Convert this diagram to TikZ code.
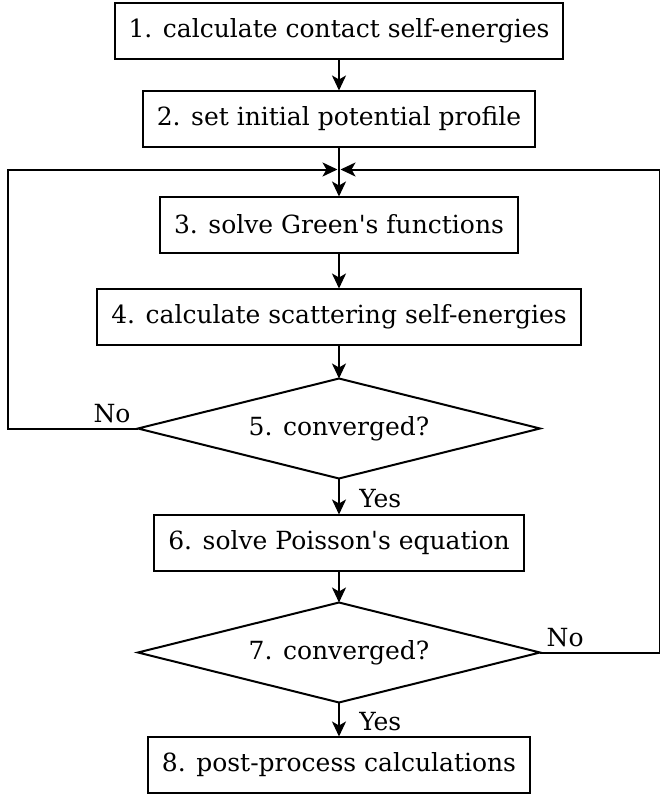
\documentclass[tikz,border=0pt]{standalone}
\usepackage{fontspec}
\setmainfont{DejaVu Serif}
\usetikzlibrary{shapes.geometric,arrows.meta,positioning,calc}

\begin{document}
\begin{tikzpicture}[
      node distance=34pt,
      line width=2pt,
      stepbox/.style={rectangle, draw, fill=white, text centered, font=\fontsize{25}{30}\selectfont, minimum height=56pt, inner xsep=14pt, outer sep=0pt},
      check/.style={diamond, draw, fill=white, aspect=4, inner sep=0pt, outer sep=0pt, font=\fontsize{25}{30}\selectfont, minimum width=402pt, minimum height=100pt},
      lbl/.style={font=\fontsize{25}{30}\selectfont},
      arrow/.style={-{Stealth[length=15pt,width=14pt,inset=4pt]}}
    ]
      \useasboundingbox (0,0) rectangle (660pt,-795pt);

      \node[stepbox] (contact) at (339pt,-30.5pt) {1. calculate contact self-energies};
      \node[stepbox, below=32pt of contact] (init) {2. set initial potential profile};
      \node[stepbox, below=50pt of init] (green) {3. solve Green\textquotesingle s functions};
      \node[stepbox, below=36pt of green] (scatter) {4. calculate scattering self-energies};
      \node[check, below=of scatter] (conv1) {5. converged?};
      \node[stepbox, below=36pt of conv1] (poisson) {6. solve Poisson\textquotesingle s equation};
      \node[check, below=32pt of poisson] (conv2) {7. converged?};
      \node[stepbox, below=of conv2] (post) {8. post-process calculations};

      % loop points
      \coordinate (join) at ($(init.south)+(0,-23pt)$);
      \coordinate (leftc) at (8pt,0);
      \coordinate (rightc) at (660pt,0);

      \draw[arrow] (contact) -- (init);
      \draw[arrow] (init) -- (green);
      \draw[arrow] (green) -- (scatter);
      \draw[arrow] (scatter) -- (conv1);
      \draw[arrow] (conv1) -- node[lbl, right, xshift=16pt, yshift=-2pt]{Yes} (poisson);
      \draw[arrow] (poisson) -- (conv2);
      \draw[arrow] (conv2) -- node[lbl, right, xshift=16pt, yshift=-2pt]{Yes} (post);

      % inner loop
      \draw[arrow] (conv1.west) -- node[lbl, above, pos=0.2, yshift=1pt]{No} (conv1.west -| leftc) |- ($(join)+(-1.5pt,0)$);
      % outer loop
      \draw[arrow] (conv2.east) -- node[lbl, above, pos=0.21, yshift=1pt]{No} (conv2.east -| rightc) |- ($(join)+(1.5pt,0)$);
    \end{tikzpicture}
\end{document}
